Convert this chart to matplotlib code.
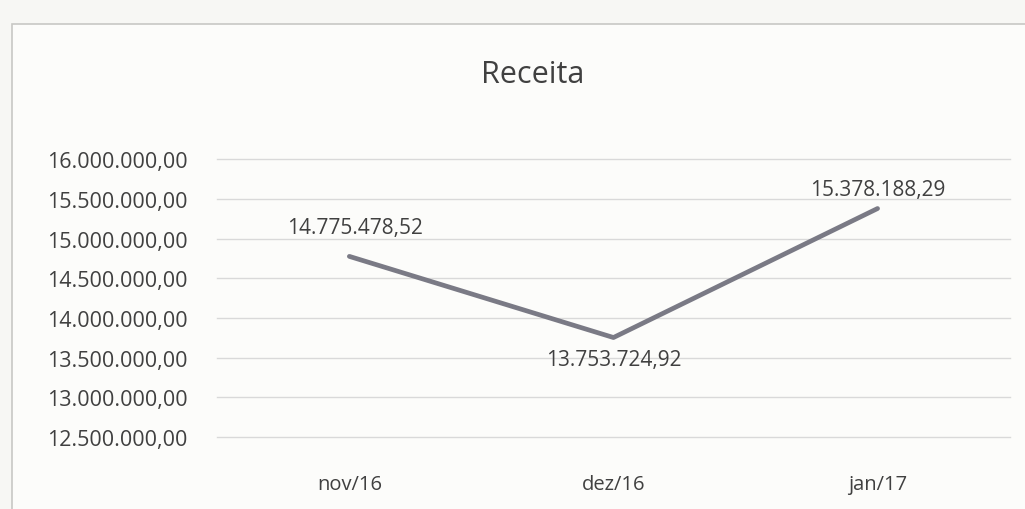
import matplotlib as mpl
import matplotlib.pyplot as plt
import matplotlib.patches as patches
from matplotlib.ticker import FuncFormatter

# data
meses = ['nov/16', 'dez/16', 'jan/17']
receita = [14775478.52, 13753724.92, 15378188.29]
yticks = [12500000, 13000000, 13500000, 14000000, 14500000, 15000000, 15500000, 16000000]

# brazilian number format: 1.234.567,89
def fmt_br(v, pos=None):
    s = f'{v:,.2f}'
    return s.replace(',', 'X').replace('.', ',').replace('X', '.')

mpl.rcParams['font.family'] = ['Open Sans', 'DejaVu Sans']
txt = '#404040'

f = plt.figure(figsize=(10.25, 5.1), dpi=100)
f.patch.set_facecolor('#f7f7f4')

# chart area border (page photo look)
border = patches.Rectangle((12 / 1025, -0.05), 1.2, 1 - 25 / 510 + 0.05,
                           transform=f.transFigure, facecolor='#fcfcfa',
                           edgecolor='#c8c8c4', linewidth=1.2, zorder=-5)
f.add_artist(border)

ax = f.add_axes([0.212, 0.141, 0.773, 0.545])
ax.set_facecolor('none')

x = list(range(len(meses)))
ax.plot(x, receita, color='#7a7a85', linewidth=3.4, solid_capstyle='round', zorder=3)

ax.set_xlim(-0.5, len(meses) - 0.5)
ax.set_ylim(yticks[0], yticks[-1])
ax.set_yticks(yticks)
ax.yaxis.set_major_formatter(FuncFormatter(fmt_br))
ax.set_xticks(x)
ax.set_xticklabels(meses)

ax.tick_params(axis='y', left=False, labelsize=15.5, labelcolor=txt, pad=18)
ax.tick_params(axis='x', bottom=False, labelsize=14.5, labelcolor=txt, pad=23)

ax.grid(True, axis='y', color='#d9d9d9', linewidth=1)
ax.set_axisbelow(True)
for gl in ax.get_ygridlines():
    gl.set_clip_on(False)
for i in ['right', 'left', 'top', 'bottom']:
    ax.spines[i].set_visible(False)

# data labels
offsets = [(4, 21), (0, -16), (0, 14)]
for xi, yi, off in zip(x, receita, offsets):
    ax.annotate(fmt_br(yi), (xi, yi), xytext=off, textcoords='offset points',
                ha='center', va='center', fontsize=15, color=txt)

f.text(0.52, 0.853, 'Receita', ha='center', va='center', fontsize=22, color=txt)

plt.savefig('out.png', dpi=100, facecolor=f.get_facecolor())
